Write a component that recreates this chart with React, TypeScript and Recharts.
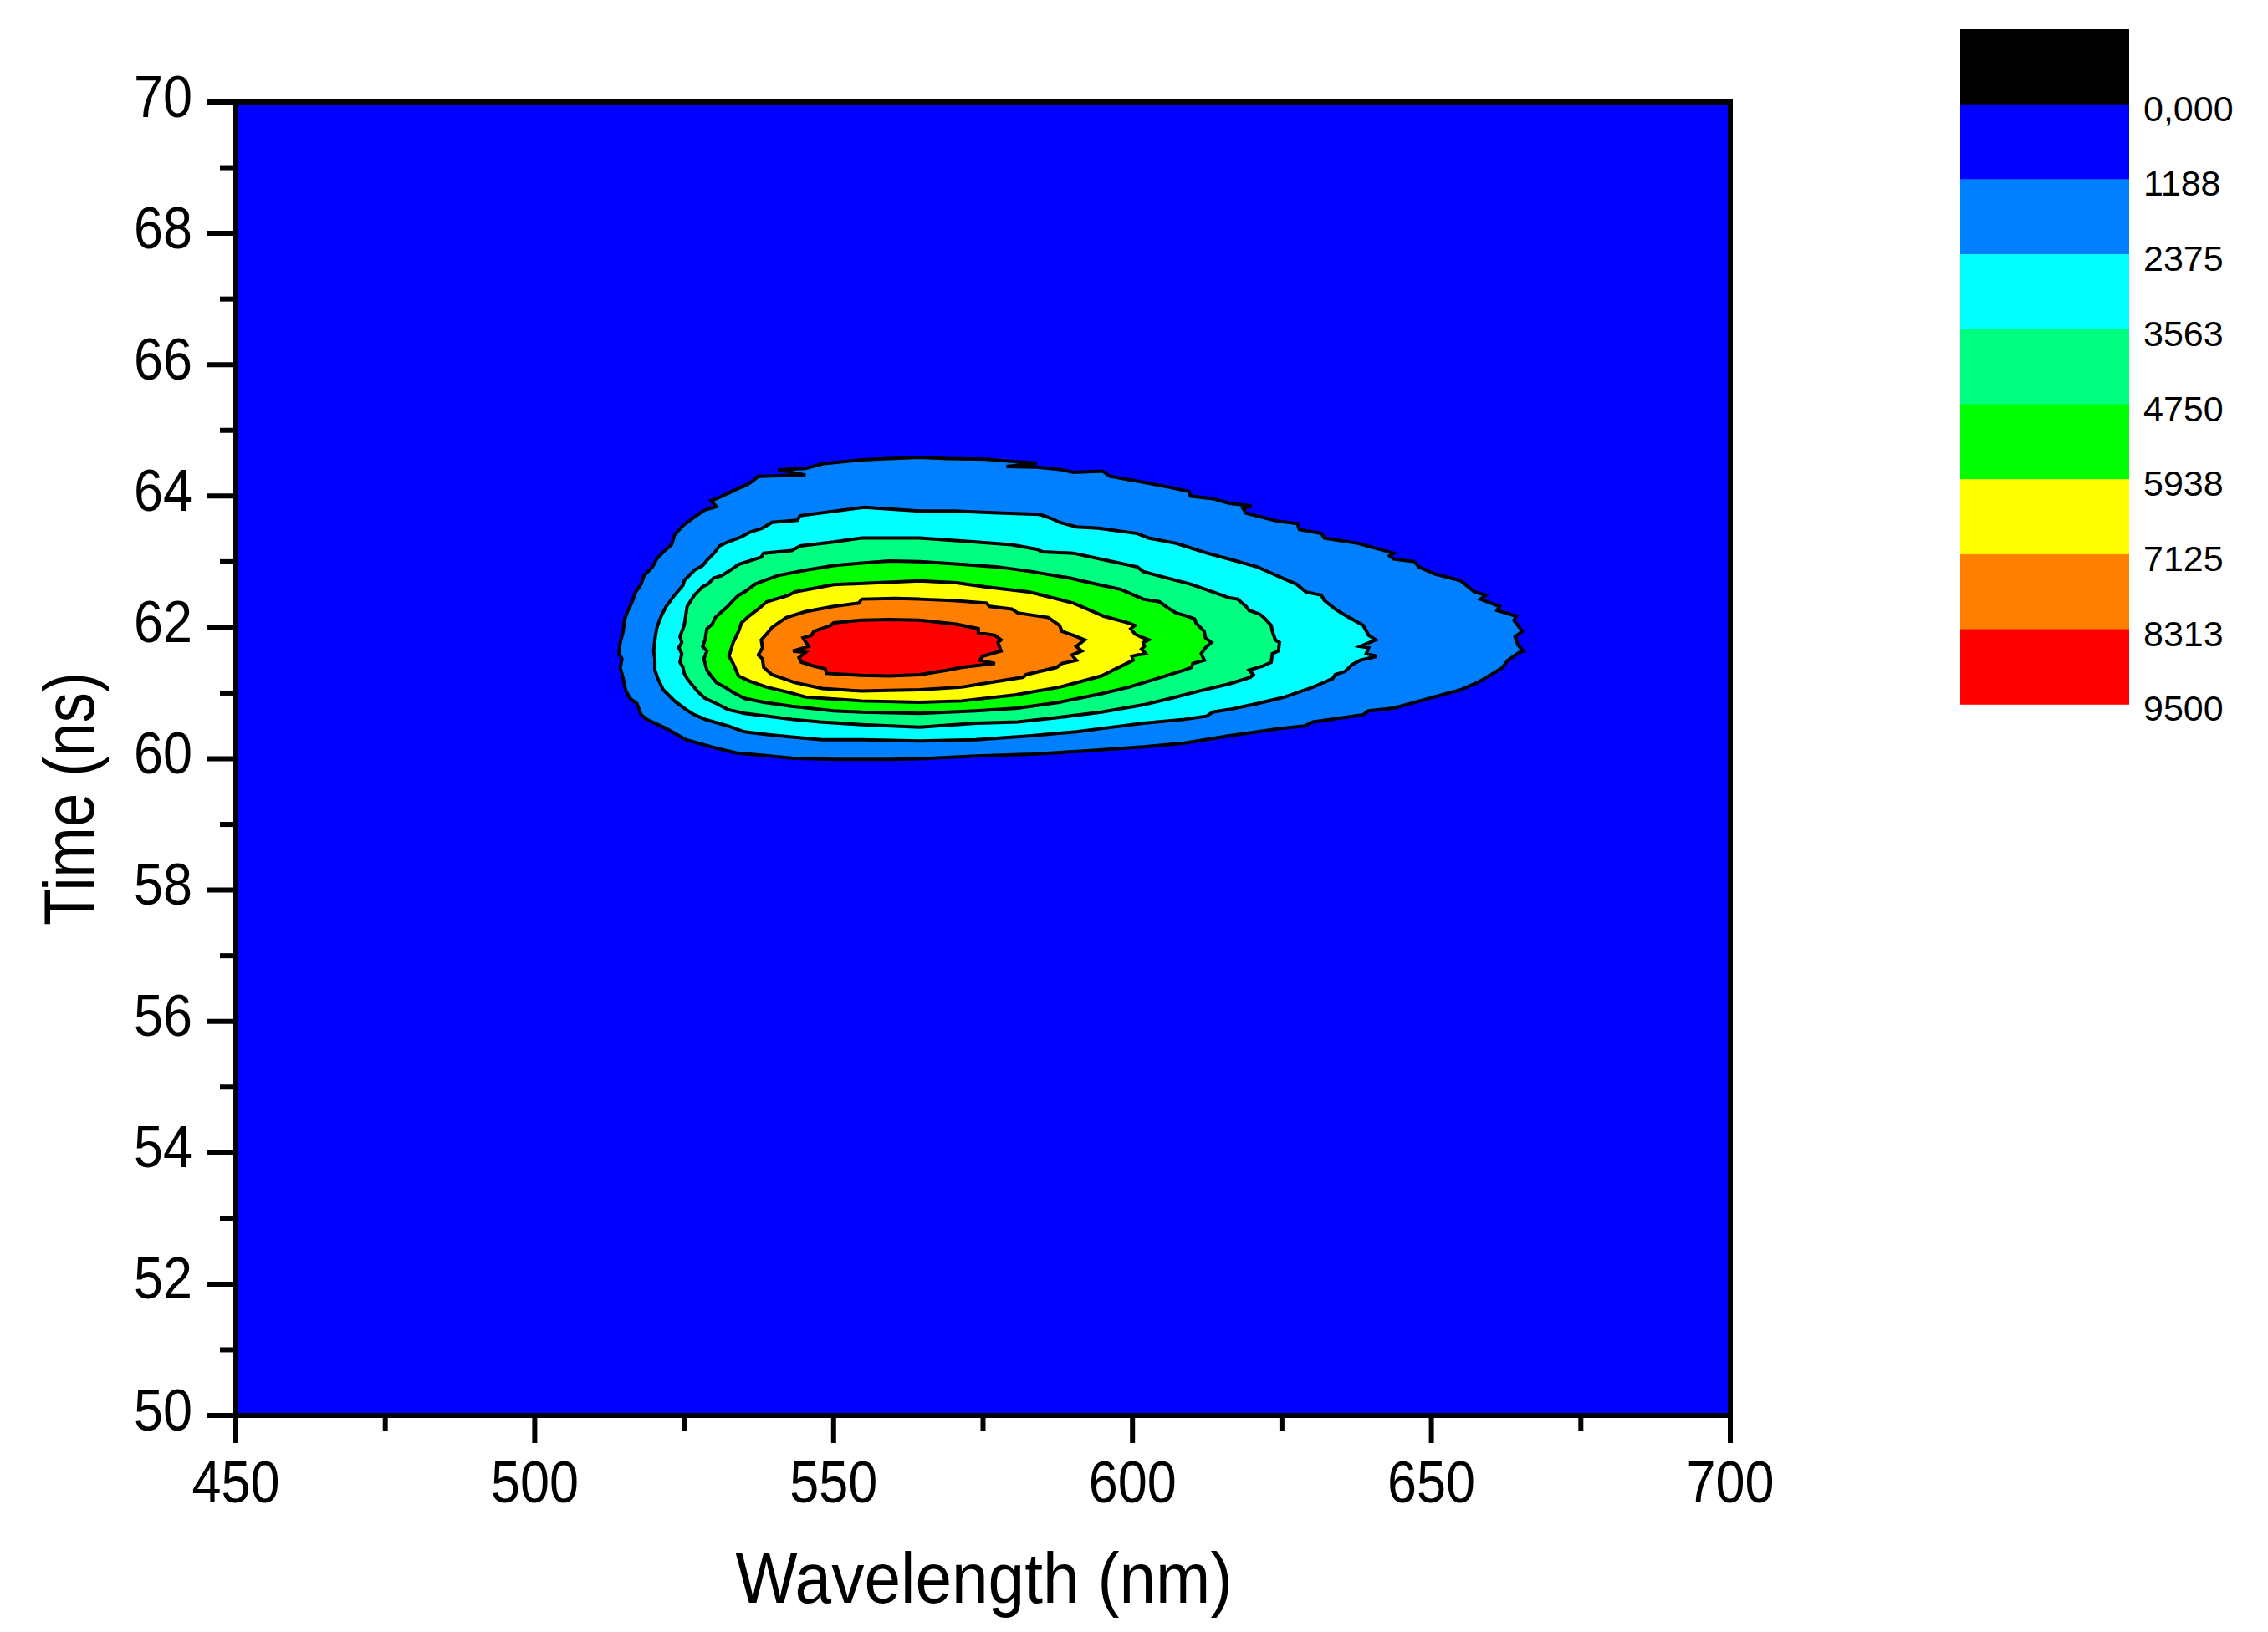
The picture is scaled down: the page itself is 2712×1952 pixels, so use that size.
import { ScatterChart, Scatter, XAxis, YAxis, ReferenceArea, Label } from "recharts";

const FONT = '"Liberation Sans", Arial, Helvetica, sans-serif';

// axis ticks
const xTicks = [450, 475, 500, 525, 550, 575, 600, 625, 650, 675, 700];
const xMajor = [450, 500, 550, 600, 650, 700];
const yTicks = [50, 51, 52, 53, 54, 55, 56, 57, 58, 59, 60, 61, 62, 63, 64, 65, 66, 67, 68, 69, 70];
const yMajor = [50, 52, 54, 56, 58, 60, 62, 64, 66, 68, 70];

// colour scale (levels)
const levelColors = ["#000000", "#0000ff", "#0080ff", "#00ffff", "#00ff80", "#00ff00", "#ffff00", "#ff8000", "#ff0000"];
const levelLabels = ["0,000", "1188", "2375", "3563", "4750", "5938", "7125", "8313", "9500"];

// contour outlines [wavelength nm, time ns]
const contour1188 = [
  [564.4, 64.59], [559.3, 64.57], [554.7, 64.55], [548.1, 64.49], [545.3, 64.42], [540.7, 64.4], [545.3, 64.32],
  [537.4, 64.3], [536.5, 64.23], [535.5, 64.17], [533.9, 64.11], [532.3, 64.04], [530.4, 63.96], [529.5, 63.93],
  [530.4, 63.84], [528.5, 63.79], [526.7, 63.68], [524.8, 63.55], [523.4, 63.41], [522.9, 63.26], [521.5, 63.15],
  [520.4, 63.04], [519.7, 62.92], [518.3, 62.79], [517.8, 62.66], [516.9, 62.54], [516.2, 62.37], [515.5, 62.24],
  [515.0, 62.11], [514.8, 61.94], [514.3, 61.77], [514.1, 61.6], [514.6, 61.52], [514.3, 61.39], [514.8, 61.22],
  [515.2, 61.05], [515.9, 60.92], [517.1, 60.84], [517.8, 60.67], [518.7, 60.6], [522.0, 60.46], [525.3, 60.29],
  [530.4, 60.16], [533.7, 60.09], [538.3, 60.05], [543.0, 60.01], [550.0, 59.99], [559.3, 59.99], [564.4, 60.0],
  [573.8, 60.04], [583.1, 60.07], [592.4, 60.12], [601.8, 60.18], [608.7, 60.24], [616.2, 60.35], [624.6, 60.46],
  [628.8, 60.5], [630.2, 60.56], [638.6, 60.67], [639.5, 60.73], [643.7, 60.77], [648.8, 60.9], [654.9, 61.05],
  [657.7, 61.16], [660.0, 61.28], [661.9, 61.39], [662.8, 61.5], [664.7, 61.62], [665.4, 61.64], [664.5, 61.73],
  [664.0, 61.86], [665.2, 61.94], [663.8, 62.11], [664.2, 62.17], [661.0, 62.26], [661.4, 62.32], [658.2, 62.43],
  [659.1, 62.49], [657.2, 62.54], [654.9, 62.71], [650.7, 62.81], [647.9, 62.92], [647.2, 63.0], [643.7, 63.04],
  [643.0, 63.09], [643.7, 63.13], [637.7, 63.28], [632.1, 63.36], [631.6, 63.43], [627.9, 63.49], [627.6, 63.58],
  [624.1, 63.62], [619.0, 63.74], [618.5, 63.81], [619.9, 63.85], [616.2, 63.89], [613.4, 63.96], [609.7, 64.0],
  [609.4, 64.07], [606.4, 64.13], [601.8, 64.21], [596.2, 64.3], [595.0, 64.38], [590.1, 64.36], [588.2, 64.4],
  [584.0, 64.44], [578.9, 64.45], [584.0, 64.5], [578.4, 64.54], [575.6, 64.56], [569.1, 64.57],
];

const contour2375 = [
  [564.4, 63.77], [555.1, 63.83], [544.4, 63.7], [543.9, 63.63], [539.7, 63.6], [538.1, 63.51], [536.0, 63.45],
  [534.6, 63.38], [532.3, 63.3], [530.9, 63.24], [530.2, 63.15], [528.8, 63.02], [528.1, 62.94], [526.7, 62.87],
  [525.0, 62.71], [524.8, 62.64], [523.4, 62.49], [522.0, 62.32], [521.3, 62.2], [520.8, 62.09], [520.4, 61.98],
  [520.1, 61.81], [519.9, 61.64], [520.1, 61.52], [520.1, 61.35], [520.6, 61.22], [521.5, 61.05], [523.4, 60.88],
  [525.3, 60.75], [526.7, 60.67], [528.5, 60.6], [532.3, 60.5], [535.1, 60.41], [538.8, 60.37], [543.0, 60.33],
  [548.1, 60.29], [554.7, 60.29], [564.4, 60.27], [573.8, 60.29], [583.1, 60.35], [590.6, 60.41], [594.8, 60.46],
  [601.8, 60.54], [608.7, 60.6], [612.5, 60.65], [613.4, 60.71], [616.2, 60.75], [620.9, 60.84], [625.5, 60.94],
  [630.2, 61.09], [633.5, 61.22], [633.9, 61.28], [635.6, 61.33], [636.7, 61.43], [638.1, 61.5], [640.9, 61.56],
  [639.1, 61.6], [639.5, 61.69], [638.1, 61.71], [640.7, 61.81], [639.5, 61.88], [638.6, 62.03], [635.3, 62.2],
  [633.9, 62.28], [632.1, 62.41], [631.6, 62.49], [629.0, 62.54], [627.4, 62.66], [624.6, 62.77], [620.9, 62.92],
  [616.2, 63.04], [612.5, 63.13], [608.7, 63.24], [607.3, 63.28], [602.7, 63.36], [600.8, 63.43], [594.3, 63.51],
  [590.6, 63.53], [587.8, 63.6], [586.4, 63.66], [584.5, 63.72], [578.4, 63.74], [570.0, 63.77],
];

const contour3563 = [
  [564.4, 63.36], [554.7, 63.36], [550.0, 63.3], [544.4, 63.24], [543.0, 63.17], [538.3, 63.13], [537.9, 63.07],
  [535.5, 63.0], [534.1, 62.96], [532.7, 62.87], [531.3, 62.79], [529.9, 62.75], [529.0, 62.66], [528.1, 62.62],
  [526.7, 62.49], [525.5, 62.32], [525.3, 62.2], [525.0, 62.03], [524.3, 61.86], [524.6, 61.77], [524.1, 61.69],
  [524.6, 61.6], [524.3, 61.47], [524.8, 61.39], [525.0, 61.3], [525.5, 61.22], [526.2, 61.14], [527.4, 61.01],
  [528.5, 60.92], [530.4, 60.84], [532.3, 60.75], [535.1, 60.69], [538.8, 60.65], [543.0, 60.6], [547.7, 60.56],
  [554.7, 60.52], [564.4, 60.48], [573.8, 60.54], [580.8, 60.56], [587.8, 60.63], [594.8, 60.71], [601.8, 60.82],
  [606.4, 60.92], [611.1, 61.03], [616.2, 61.14], [619.7, 61.24], [620.2, 61.28], [619.5, 61.35], [621.8, 61.41],
  [623.2, 61.47], [623.4, 61.6], [624.4, 61.64], [624.6, 61.77], [623.9, 61.81], [623.4, 61.94], [623.2, 62.03],
  [622.0, 62.15], [621.3, 62.2], [619.5, 62.26], [619.0, 62.32], [617.6, 62.43], [616.2, 62.45], [613.4, 62.54],
  [609.7, 62.66], [605.0, 62.77], [601.8, 62.85], [600.8, 62.92], [595.7, 63.02], [590.1, 63.13], [585.0, 63.15],
  [584.0, 63.19], [579.8, 63.26], [573.8, 63.3],
];

const contour4750 = [
  [564.4, 63.0], [559.3, 63.01], [554.7, 62.98], [550.0, 62.94], [545.3, 62.87], [540.7, 62.79], [538.3, 62.71],
  [536.9, 62.66], [536.0, 62.6], [535.1, 62.54], [534.1, 62.49], [533.2, 62.41], [532.3, 62.32], [531.3, 62.24],
  [530.2, 62.15], [529.7, 62.05], [528.8, 61.98], [528.5, 61.81], [528.1, 61.71], [528.8, 61.64], [528.3, 61.52],
  [528.8, 61.35], [529.5, 61.26], [530.4, 61.16], [531.8, 61.09], [533.2, 61.01], [535.1, 60.92], [538.3, 60.86],
  [543.0, 60.8], [550.0, 60.73], [554.7, 60.71], [564.4, 60.69], [573.8, 60.73], [580.8, 60.77], [587.8, 60.86],
  [594.8, 60.99], [599.4, 61.09], [604.1, 61.22], [608.7, 61.35], [609.9, 61.39], [610.1, 61.45], [612.0, 61.5],
  [611.5, 61.6], [612.2, 61.69], [613.2, 61.77], [612.2, 61.84], [612.0, 61.94], [610.6, 62.07], [610.4, 62.13],
  [609.2, 62.17], [607.3, 62.22], [605.9, 62.3], [604.5, 62.39], [601.8, 62.43], [598.0, 62.58], [592.9, 62.68],
  [589.6, 62.75], [583.1, 62.85], [577.5, 62.92], [571.4, 62.96],
];

const contour5938 = [
  [564.4, 62.71], [550.0, 62.65], [543.5, 62.54], [542.5, 62.49], [538.8, 62.39], [537.4, 62.28], [535.8, 62.17],
  [534.6, 62.07], [534.1, 61.94], [533.2, 61.77], [532.5, 61.56], [533.2, 61.45], [534.1, 61.26], [536.0, 61.18],
  [538.8, 61.09], [542.5, 61.01], [545.3, 60.94], [554.7, 60.88], [564.4, 60.86], [571.4, 60.88], [580.3, 60.97],
  [587.8, 61.09], [594.8, 61.26], [599.0, 61.45], [600.1, 61.5], [599.9, 61.56], [600.8, 61.58], [602.2, 61.6],
  [601.5, 61.67], [602.0, 61.71], [601.8, 61.77], [602.7, 61.81], [601.3, 61.86], [600.4, 61.9], [599.7, 61.98],
  [600.4, 62.03], [599.2, 62.07], [595.2, 62.17], [592.4, 62.28], [590.1, 62.37], [583.6, 62.52], [582.6, 62.54],
  [575.2, 62.62], [570.5, 62.68],
];

const contour7125 = [
  [564.4, 62.43], [560.3, 62.44], [554.7, 62.43], [554.2, 62.37], [550.0, 62.32], [545.3, 62.24], [542.1, 62.15],
  [541.1, 62.09], [539.7, 62.0], [538.8, 61.9], [537.9, 61.81], [538.1, 61.69], [537.4, 61.58], [538.1, 61.52],
  [538.3, 61.39], [539.7, 61.28], [541.6, 61.22], [543.5, 61.16], [548.1, 61.07], [554.7, 61.03], [559.3, 61.04],
  [564.4, 61.05], [571.4, 61.09], [574.7, 61.14], [581.7, 61.24], [582.2, 61.28], [587.3, 61.39], [588.2, 61.45],
  [590.6, 61.5], [589.9, 61.58], [591.5, 61.64], [590.6, 61.71], [592.0, 61.81], [590.1, 61.88], [588.2, 61.94],
  [587.8, 62.03], [585.9, 62.15], [580.8, 62.22], [579.8, 62.28], [576.1, 62.32], [575.6, 62.37], [570.0, 62.41],
];

const contour8313 = [
  [564.4, 62.11], [559.3, 62.12], [554.7, 62.11], [550.0, 62.07], [549.5, 62.03], [546.7, 61.94], [546.3, 61.88],
  [544.9, 61.84], [545.8, 61.71], [543.2, 61.64], [545.3, 61.62], [544.2, 61.54], [544.6, 61.47], [546.7, 61.41],
  [548.6, 61.37], [548.8, 61.3], [554.7, 61.27], [559.3, 61.26], [564.4, 61.28], [569.1, 61.35], [571.4, 61.39],
  [577.0, 61.45], [574.5, 61.5], [574.9, 61.56], [578.0, 61.64], [577.5, 61.77], [578.0, 61.81], [577.0, 61.88],
  [574.2, 61.92], [574.2, 61.98], [570.5, 62.05],
];

// outer -> inner, each filled with the colour of the band above its level
const contours = [
  { level: "1188", color: levelColors[2], pts: contour1188 },
  { level: "2375", color: levelColors[3], pts: contour2375 },
  { level: "3563", color: levelColors[4], pts: contour3563 },
  { level: "4750", color: levelColors[5], pts: contour4750 },
  { level: "5938", color: levelColors[6], pts: contour5938 },
  { level: "7125", color: levelColors[7], pts: contour7125 },
  { level: "8313", color: levelColors[8], pts: contour8313 },
];

const toRows = (pts: number[][]) => [...pts, pts[0]].map(([wl, t]) => ({ wl, t }));

function XTick({ x, y, payload }: any) {
  const v = payload.value;
  const major = xMajor.includes(v);
  return (
    <g>
      <line x1={x} x2={x} y1={y} y2={y + (major ? 33 : 19)} stroke="#000" strokeWidth={6} />
      {major && (
        <text x={x} y={y + 104} textAnchor="middle" fontSize={71} fontFamily={FONT} fill="#000"
          textLength={String(v).length * 35} lengthAdjust="spacingAndGlyphs">
          {v}
        </text>
      )}
    </g>
  );
}

function YTick({ x, y, payload }: any) {
  const v = payload.value;
  const major = yMajor.includes(v);
  return (
    <g>
      <line x1={x - (major ? 35 : 19)} x2={x} y1={y} y2={y} stroke="#000" strokeWidth={6} />
      {major && (
        <text x={x - 52} y={y + 17.5} textAnchor="end" fontSize={71} fontFamily={FONT} fill="#000"
          textLength={String(v).length * 35} lengthAdjust="spacingAndGlyphs">
          {v}
        </text>
      )}
    </g>
  );
}

function XTitle(props: any) {
  const vb = props.viewBox || { x: 282, y: 1693, width: 1787, height: 227 };
  return (
    <text x={vb.x + vb.width / 2 + 1} y={vb.y + vb.height - 3} textAnchor="middle" fontSize={86}
      fontFamily={FONT} fill="#000" textLength={594} lengthAdjust="spacingAndGlyphs">
      Wavelength (nm)
    </text>
  );
}

function YTitle(props: any) {
  const vb = props.viewBox || { x: 82, y: 122, width: 200, height: 1571 };
  const cx = vb.x + 30;
  const cy = vb.y + vb.height / 2 + 48;
  return (
    <text x={cx} y={cy} transform={`rotate(-90, ${cx}, ${cy})`} textAnchor="middle" fontSize={86}
      fontFamily={FONT} fill="#000" textLength={303} lengthAdjust="spacingAndGlyphs">
      Time (ns)
    </text>
  );
}

export default function App() {
  const boxTop = 35;
  const boxH = 89.7;
  return (
    <div style={{ position: "absolute", left: 0, top: 0, width: 2712, height: 1952, background: "#fff" }}>
      <ScatterChart width={2712} height={1952} margin={{ top: 122, right: 643, bottom: 32, left: 82 }}>
        <XAxis type="number" dataKey="wl" domain={[450, 700]} ticks={xTicks} interval={0} allowDataOverflow
          height={227} tickSize={0} tickMargin={0} axisLine={false} tickLine={false} tick={(p: any) => <XTick {...p} />}>
          <Label content={(p: any) => <XTitle {...p} />} />
        </XAxis>
        <YAxis type="number" dataKey="t" domain={[50, 70]} ticks={yTicks} interval={0} allowDataOverflow
          width={200} tickSize={0} tickMargin={0} axisLine={false} tickLine={false} tick={(p: any) => <YTick {...p} />}>
          <Label content={(p: any) => <YTitle {...p} />} />
        </YAxis>
        <ReferenceArea x1={450} x2={700} y1={50} y2={70} fill={levelColors[1]} fillOpacity={1}
          stroke="#000" strokeWidth={6} ifOverflow="visible" />
        {contours.map((c) => (
          <Scatter key={c.level} name={c.level} data={toRows(c.pts)} fill={c.color}
            line={{ fill: c.color, stroke: "#000", strokeWidth: 4 }} lineJointType="linear"
            shape={() => <g />} isAnimationActive={false} />
        ))}
      </ScatterChart>
      <svg width={2712} height={1952} style={{ position: "absolute", left: 0, top: 0, pointerEvents: "none" }}>
        {levelColors.map((col, i) => (
          <rect key={col} x={2344} y={boxTop + i * boxH} width={202} height={boxH + 0.5} fill={col} />
        ))}
        {levelLabels.map((lab, i) => (
          <text key={lab} x={2563} y={boxTop + (i + 1) * boxH + 20} fontSize={43} fontFamily={FONT} fill="#000">
            {lab}
          </text>
        ))}
      </svg>
    </div>
  );
}
